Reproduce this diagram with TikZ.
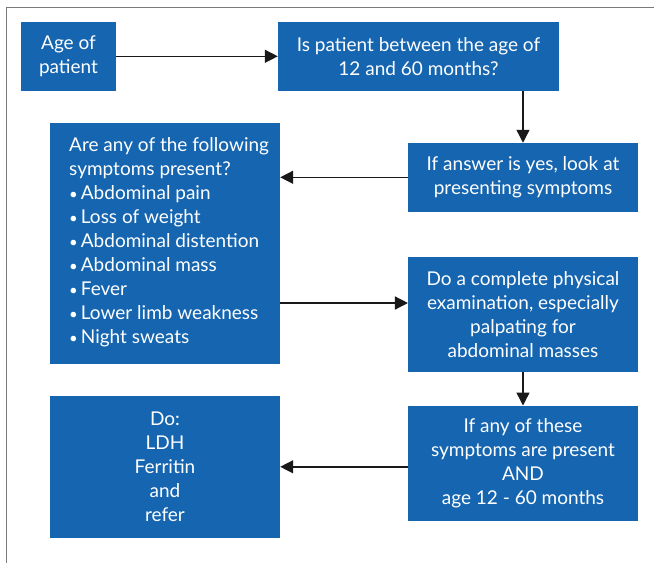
\documentclass[tikz,border=0pt]{standalone}
\usepackage{fontspec}
\setmainfont{Lato}
\usetikzlibrary{arrows.meta,calc}
\definecolor{boxblue}{HTML}{1565B0}
\definecolor{framegray}{HTML}{7A7A7A}
\newcommand{\bul}{{\fontsize{15}{24}\selectfont\textbullet}\kern3pt}
\begin{document}
\begin{tikzpicture}[x=1pt,y=-1pt,
  box/.style={fill=boxblue,text=white,inner sep=0pt,font=\fontsize{19}{24}\selectfont,align=center},
  conn/.style={draw=black!90,line width=1.4pt,-{Triangle[length=13pt,width=13pt]}}]
\useasboundingbox (0,0) rectangle (654,563);
\draw[framegray,line width=1.3pt] (6.3,563) -- (6.3,7.3) -- (654,7.3);
\node[box,minimum width=95pt,minimum height=68.7pt] (age) at (68.5,56.3) {Age of\\patient};
\node[box,minimum width=281pt,minimum height=68.7pt] (q) at (418.5,56.3) {Is patient between the age of\\12 and 60 months?};
\node[box,minimum width=229.7pt,minimum height=68.7pt] (yes) at (523,177.3) {If answer is yes, look at\\presenting symptoms};
\node[box,minimum width=230pt,minimum height=241.3pt] (sym) at (165,243.7) {};
\node[box,align=left,anchor=north west] (symtext) at (69,137.5) {Are any of the following\\symptoms present?\\\bul Abdominal pain\\\bul Loss of weight\\\bul Abdominal distention\\\bul Abdominal mass\\\bul Fever\\\bul Lower limb weakness\\\bul Night sweats};
\node[box,minimum width=229.7pt,minimum height=114.7pt] (exam) at (523,314.3) {Do a complete physical\\examination, especially\\palpating for\\abdominal masses};
\node[box,minimum width=229.7pt,minimum height=115pt] (any) at (523,463.2) {If any of these\\symptoms are present\\AND\\age 12 - 60 months};
\node[box,minimum width=230pt,minimum height=141.7pt] (do) at (165,466.8) {Do:\\LDH\\Ferritin\\and\\refer};
\coordinate (a4) at (280,303);
\draw[conn] (age.east) -- (age.east -| q.west);
\draw[conn] (q.south -| yes.north) -- (yes.north);
\draw[conn] (yes.west) -- (yes.west -| sym.east);
\draw[conn] (a4) -- (a4 -| exam.west);
\draw[conn] (exam.south) -- (any.north);
\draw[conn] (any.west |- do.east) -- (do.east);
\end{tikzpicture}
\end{document}
